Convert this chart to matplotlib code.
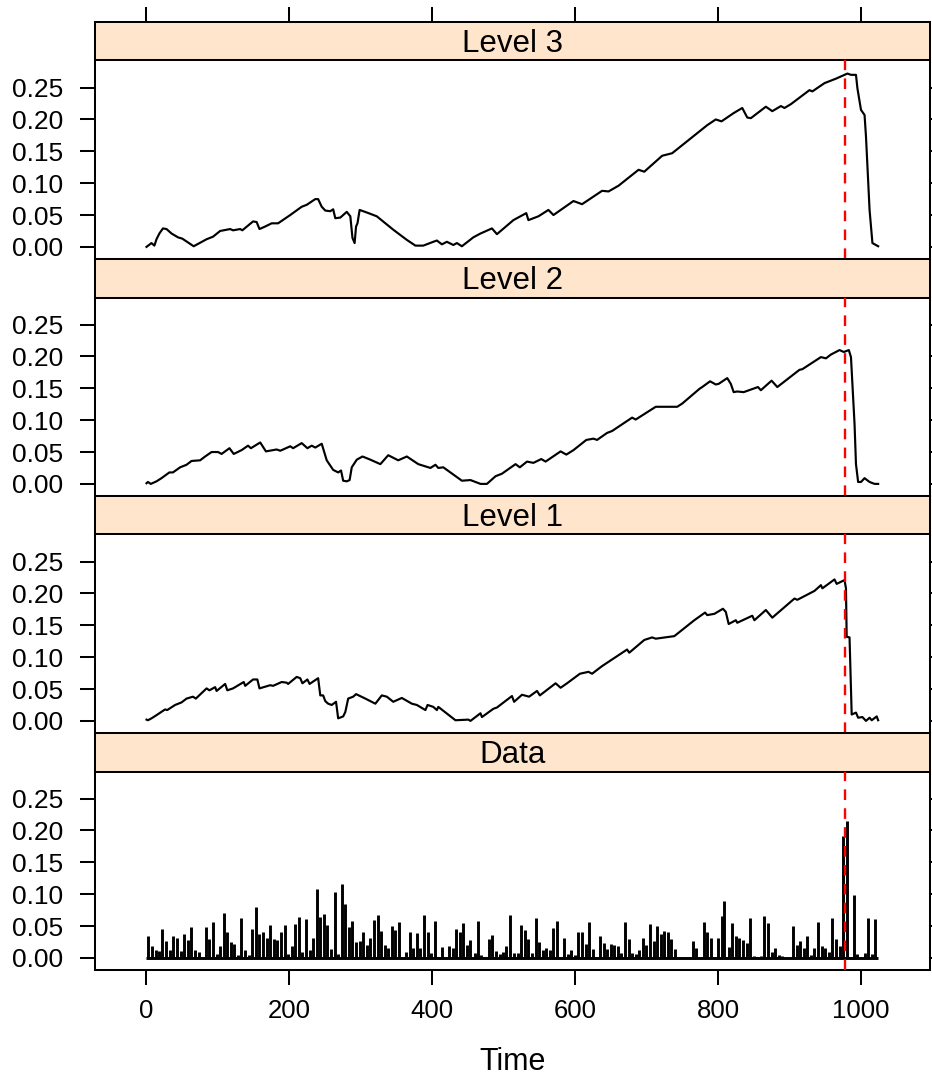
import matplotlib
matplotlib.use('Agg')
import matplotlib.pyplot as plt
from matplotlib.ticker import FormatStrFormatter

plt.rcParams['font.family'] = ['Liberation Sans', 'DejaVu Sans']

# values (time, value)
L3_T = [1, 8, 12, 15, 19, 24, 29, 36, 45, 51,
        67, 85, 94, 104, 118, 122, 132, 135, 150, 155,
        159, 167, 176, 185, 202, 218, 225, 237, 241, 246,
        251, 258, 262, 265, 272, 281, 286, 289, 292, 294,
        296, 299, 309, 323, 346, 365, 377, 388, 402, 407,
        414, 421, 430, 435, 442, 458, 468, 472, 484, 491,
        514, 532, 535, 549, 563, 570, 598, 610, 638, 647,
        661, 689, 697, 722, 736, 785, 797, 805, 822, 834,
        841, 846, 867, 876, 888, 893, 902, 928, 932, 949,
        965, 981, 986, 993, 995, 1000, 1005, 1007, 1012, 1016,
        1024]
L3_V = [0.000, 0.006, 0.002, 0.012, 0.021, 0.029, 0.028, 0.021, 0.015, 0.013,
        0.001, 0.012, 0.016, 0.025, 0.028, 0.026, 0.028, 0.026, 0.040, 0.039,
        0.028, 0.032, 0.037, 0.037, 0.050, 0.063, 0.066, 0.075, 0.075, 0.063,
        0.057, 0.056, 0.059, 0.045, 0.046, 0.055, 0.048, 0.014, 0.006, 0.032,
        0.037, 0.058, 0.054, 0.048, 0.027, 0.011, 0.002, 0.002, 0.008, 0.010,
        0.004, 0.008, 0.003, 0.006, 0.001, 0.015, 0.021, 0.023, 0.029, 0.020,
        0.042, 0.053, 0.042, 0.048, 0.058, 0.050, 0.072, 0.067, 0.088, 0.087,
        0.096, 0.121, 0.118, 0.143, 0.147, 0.191, 0.200, 0.197, 0.210, 0.218,
        0.203, 0.202, 0.220, 0.213, 0.221, 0.218, 0.224, 0.246, 0.244, 0.257,
        0.264, 0.272, 0.270, 0.270, 0.249, 0.215, 0.207, 0.173, 0.058, 0.006,
        0.001]

L2_T = [1, 3, 7, 15, 22, 33, 38, 48, 57, 64,
        76, 83, 92, 101, 106, 117, 123, 134, 143, 147,
        160, 168, 183, 188, 202, 206, 218, 226, 232, 237,
        246, 253, 262, 269, 273, 276, 281, 285, 288, 295,
        303, 314, 328, 339, 353, 365, 381, 398, 405, 409,
        416, 442, 454, 468, 477, 489, 498, 517, 523, 533,
        542, 553, 559, 580, 588, 598, 616, 626, 631, 645,
        652, 680, 685, 713, 720, 743, 750, 774, 778, 789,
        797, 801, 813, 818, 822, 827, 836, 856, 860, 875,
        883, 914, 918, 944, 951, 958, 970, 976, 983, 986,
        988, 991, 993, 996, 1000, 1005, 1012, 1019, 1024]
L2_V = [0.001, 0.003, 0.000, 0.004, 0.009, 0.018, 0.018, 0.026, 0.030, 0.036,
        0.037, 0.043, 0.050, 0.050, 0.047, 0.056, 0.047, 0.053, 0.060, 0.056,
        0.065, 0.051, 0.054, 0.052, 0.059, 0.056, 0.064, 0.056, 0.060, 0.057,
        0.063, 0.037, 0.022, 0.018, 0.021, 0.005, 0.004, 0.006, 0.026, 0.038,
        0.043, 0.038, 0.031, 0.045, 0.037, 0.043, 0.031, 0.025, 0.030, 0.025,
        0.026, 0.005, 0.006, 0.000, 0.000, 0.012, 0.016, 0.031, 0.026, 0.035,
        0.033, 0.039, 0.035, 0.051, 0.046, 0.053, 0.069, 0.071, 0.069, 0.080,
        0.083, 0.104, 0.101, 0.121, 0.121, 0.121, 0.126, 0.149, 0.152, 0.161,
        0.156, 0.157, 0.166, 0.157, 0.144, 0.145, 0.144, 0.152, 0.147, 0.162,
        0.152, 0.179, 0.180, 0.199, 0.197, 0.203, 0.210, 0.207, 0.210, 0.199,
        0.157, 0.094, 0.031, 0.003, 0.003, 0.009, 0.003, 0.000, 0.000]

L1_T = [1, 3, 8, 15, 27, 30, 41, 50, 57, 66,
        70, 85, 89, 97, 99, 111, 114, 122, 137, 139,
        150, 156, 159, 174, 178, 190, 197, 199, 211, 216,
        219, 226, 229, 241, 244, 248, 251, 255, 260, 266,
        269, 276, 279, 283, 290, 294, 307, 321, 330, 337,
        346, 358, 372, 379, 391, 394, 402, 407, 409, 433,
        451, 454, 468, 470, 486, 491, 512, 515, 526, 536,
        547, 551, 573, 580, 589, 607, 619, 624, 638, 673,
        676, 697, 708, 713, 739, 767, 782, 785, 795, 807,
        811, 815, 825, 827, 848, 851, 867, 876, 907, 911,
        935, 944, 946, 963, 966, 977, 979, 980, 984, 987,
        993, 996, 1002, 1007, 1012, 1015, 1022, 1024]
L1_V = [0.002, 0.001, 0.004, 0.009, 0.018, 0.017, 0.025, 0.029, 0.035, 0.038,
        0.035, 0.051, 0.048, 0.053, 0.047, 0.058, 0.048, 0.051, 0.061, 0.055,
        0.065, 0.065, 0.051, 0.056, 0.055, 0.061, 0.060, 0.058, 0.069, 0.067,
        0.059, 0.065, 0.058, 0.067, 0.040, 0.040, 0.031, 0.027, 0.025, 0.030,
        0.004, 0.007, 0.014, 0.035, 0.038, 0.042, 0.035, 0.027, 0.040, 0.038,
        0.030, 0.036, 0.027, 0.025, 0.017, 0.025, 0.022, 0.017, 0.022, 0.001,
        0.002, 0.000, 0.012, 0.006, 0.019, 0.021, 0.039, 0.030, 0.041, 0.038,
        0.047, 0.040, 0.059, 0.052, 0.059, 0.074, 0.077, 0.074, 0.086, 0.112,
        0.107, 0.127, 0.131, 0.129, 0.133, 0.158, 0.170, 0.166, 0.168, 0.176,
        0.171, 0.152, 0.158, 0.154, 0.165, 0.158, 0.174, 0.162, 0.192, 0.190,
        0.204, 0.213, 0.208, 0.222, 0.215, 0.221, 0.208, 0.132, 0.131, 0.010,
        0.013, 0.005, 0.006, 0.000, 0.005, 0.001, 0.007, 0.001]

DATA_T = [3, 8, 14, 19, 23, 28, 34, 38, 43, 49,
          54, 59, 63, 69, 74, 78, 84, 89, 94, 99,
          104, 109, 114, 119, 124, 129, 133, 139, 144, 148,
          154, 159, 164, 169, 174, 179, 184, 189, 194, 199,
          204, 209, 214, 219, 224, 229, 234, 239, 244, 249,
          254, 259, 264, 269, 274, 279, 284, 289, 294, 299,
          304, 309, 314, 319, 324, 329, 334, 339, 344, 349,
          354, 359, 364, 369, 374, 379, 384, 389, 394, 399,
          404, 409, 414, 419, 424, 429, 434, 440, 444, 449,
          454, 460, 464, 469, 474, 480, 484, 489, 495, 500,
          504, 509, 515, 520, 525, 530, 535, 540, 545, 550,
          555, 560, 565, 570, 575, 580, 585, 590, 595, 600,
          605, 610, 615, 620, 625, 630, 635, 640, 645, 650,
          655, 660, 665, 670, 675, 680, 685, 690, 695, 700,
          705, 710, 715, 720, 725, 730, 735, 740, 745, 750,
          755, 760, 765, 770, 775, 780, 785, 790, 795, 800,
          805, 809, 815, 820, 825, 830, 835, 840, 845, 850,
          855, 860, 865, 870, 875, 880, 885, 890, 905, 910,
          915, 920, 925, 930, 935, 940, 945, 950, 955, 960,
          965, 970, 975, 980, 985, 990, 995, 1000, 1006, 1010,
          1015, 1020]
DATA_V = [0.035, 0.018, 0.013, 0.011, 0.046, 0.027, 0.013, 0.035, 0.031, 0.011,
          0.038, 0.028, 0.049, 0.013, 0.009, 0.002, 0.049, 0.030, 0.057, 0.006,
          0.018, 0.071, 0.041, 0.025, 0.022, 0.004, 0.063, 0.012, 0.004, 0.046,
          0.080, 0.037, 0.040, 0.031, 0.051, 0.030, 0.028, 0.040, 0.051, 0.006,
          0.018, 0.053, 0.064, 0.009, 0.061, 0.012, 0.031, 0.108, 0.064, 0.069,
          0.052, 0.014, 0.103, 0.006, 0.116, 0.084, 0.049, 0.058, 0.025, 0.026,
          0.041, 0.021, 0.031, 0.059, 0.068, 0.042, 0.021, 0.016, 0.050, 0.043,
          0.057, 0.002, 0.009, 0.040, 0.016, 0.039, 0.016, 0.067, 0.040, 0.007,
          0.058, 0.002, 0.017, 0.002, 0.019, 0.015, 0.045, 0.041, 0.054, 0.020,
          0.028, 0.008, 0.058, 0.004, 0.002, 0.030, 0.036, 0.011, 0.006, 0.009,
          0.018, 0.068, 0.008, 0.007, 0.051, 0.043, 0.029, 0.008, 0.063, 0.025,
          0.012, 0.015, 0.012, 0.047, 0.058, 0.002, 0.032, 0.006, 0.012, 0.005,
          0.040, 0.041, 0.022, 0.056, 0.014, 0.002, 0.035, 0.024, 0.014, 0.022,
          0.021, 0.018, 0.007, 0.057, 0.030, 0.007, 0.006, 0.012, 0.032, 0.021,
          0.053, 0.026, 0.050, 0.037, 0.042, 0.041, 0.030, 0.014, 0.002, 0.002,
          0.002, 0.002, 0.027, 0.015, 0.002, 0.057, 0.041, 0.032, 0.002, 0.032,
          0.066, 0.090, 0.017, 0.054, 0.035, 0.031, 0.028, 0.024, 0.063, 0.003,
          0.002, 0.003, 0.066, 0.054, 0.010, 0.016, 0.005, 0.003, 0.050, 0.020,
          0.026, 0.016, 0.035, 0.005, 0.015, 0.056, 0.019, 0.015, 0.009, 0.063,
          0.030, 0.018, 0.191, 0.215, 0.001, 0.099, 0.006, 0.002, 0.007, 0.062,
          0.006, 0.061]

TIME_RANGE = (1, 1024)
CHANGE_POINT = 978
PANEL_NAMES = ['Level 3', 'Level 2', 'Level 1', 'Data']
XTICKS = [0, 200, 400, 600, 800, 1000]
YTICKS = [0.00, 0.05, 0.10, 0.15, 0.20, 0.25]

XLIM = (-71, 1096.5)
YLIM = (-0.019, 0.2925)
STRIP_COL = '#FFE5CC'
W, H = 932, 1077
LW = 1.45


def rect(x0, y0, x1, y1):
    return [x0 / W, 1 - y1 / H, (x1 - x0) / W, (y1 - y0) / H]


fig = plt.figure(figsize=(W / 100, H / 100), dpi=100)
series = [(L3_T, L3_V), (L2_T, L2_V), (L1_T, L1_V), (DATA_T, DATA_V)]

for i, (name, (t, v)) in enumerate(zip(PANEL_NAMES, series)):
    s0 = 22 + i * 237
    # strip
    sax = fig.add_axes(rect(95, s0, 930, s0 + 38.5))
    sax.set_facecolor(STRIP_COL)
    sax.set_xlim(XLIM); sax.set_ylim(0, 1)
    sax.set_yticks([])
    for sp in sax.spines.values(): sp.set_linewidth(LW)
    sax.text(0.5, 0.21, name, transform=sax.transAxes, ha='center', va='baseline', fontsize=22.5)
    if i == 0:
        sax.set_xticks(XTICKS)
        sax.tick_params(axis='x', top=True, bottom=False, labeltop=False, labelbottom=False,
                        direction='out', length=10.8, width=LW)
    else:
        sax.set_xticks([])

    # panel
    ax = fig.add_axes(rect(95, s0 + 38.5, 930, s0 + 237))
    ax.set_xlim(XLIM); ax.set_ylim(YLIM)
    for sp in ax.spines.values(): sp.set_linewidth(LW)
    if name == 'Data':
        ax.vlines(t, 0, v, colors='black', lw=2.1)
        ax.hlines(0, TIME_RANGE[0], TIME_RANGE[1], colors='black', lw=2.1)
        ax.set_xticks(XTICKS)
        ax.tick_params(axis='x', direction='out', length=10.8, width=LW, labelsize=18.5, pad=10)
    else:
        ax.plot(t, v, color='black', lw=1.55, solid_joinstyle='round')
        ax.set_xticks([])
    ax.axvline(CHANGE_POINT, color='red', lw=1.7, dashes=(4.5, 3.5), zorder=5)
    ax.set_yticks(YTICKS)
    ax.yaxis.set_major_formatter(FormatStrFormatter('%.2f'))
    ax.tick_params(axis='y', left=True, right=True, labelright=False, direction='out',
                   length=10.8, width=LW, labelsize=19, pad=12)

fig.text(512.5 / W, 1 - 1062 / H, 'Time', ha='center', va='center', fontsize=22)

fig.savefig('out.png', dpi=100)
